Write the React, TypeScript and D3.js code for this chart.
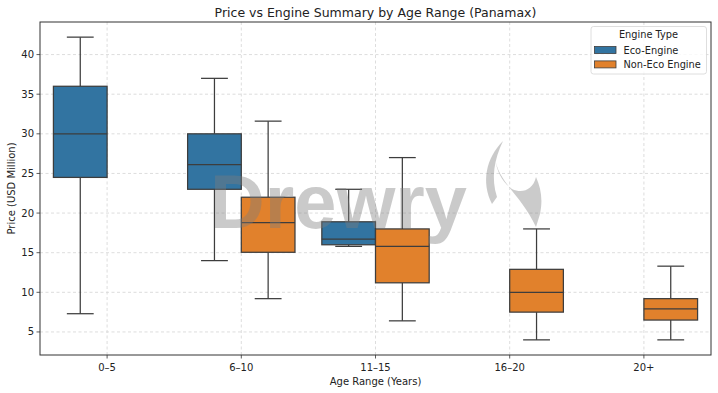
import React from "react";
import * as d3 from "d3";

const categories = ["0–5", "6–10", "11–15", "16–20", "20+"];
const engineTypes = ["Eco-Engine", "Non-Eco Engine"];
const colors = ["#3274a1", "#e1812c"];

// per category: [whiskerLow, q1, median, q3, whiskerHigh]
const ecoStats: (number[] | null)[] = [
  [7.3, 24.5, 30.0, 36.0, 42.2],
  [14.0, 23.0, 26.1, 30.0, 37.0],
  [15.8, 16.0, 16.7, 18.9, 23.0],
  null,
  null,
];
const nonEcoStats: (number[] | null)[] = [
  null,
  [9.2, 15.05, 18.8, 22.0, 31.6],
  [6.4, 11.2, 15.8, 18.0, 27.0],
  [4.0, 7.5, 10.0, 12.9, 18.0],
  [4.0, 6.5, 7.9, 9.2, 13.3],
];
const yTicks = [5, 10, 15, 20, 25, 30, 35, 40];

const W = 718;
const H = 393;
const M = { left: 40, right: 711, top: 22, bottom: 355 };
const FONT = "DejaVu Sans, sans-serif";

export default function App() {
  const x = d3.scaleLinear().domain([-0.5, 4.5]).range([M.left, M.right]);
  const y = d3.scaleLinear().domain([2.09, 44.11]).range([M.bottom, M.top]);
  const boxW = x(0.4) - x(0);
  const series = [ecoStats, nonEcoStats];

  return (
    <svg width={W} height={H} style={{ position: "absolute", left: 0, top: 0, background: "#fff" }}>
      <rect x={0} y={0} width={W} height={H} fill="#fff" />
      {/* grid */}
      {yTicks.map((t) => (
        <line key={"gy" + t} x1={M.left} x2={M.right} y1={y(t)} y2={y(t)} stroke="#d4d4d4" strokeWidth={0.8} strokeDasharray="3,2.5" />
      ))}
      {categories.map((c, i) => (
        <line key={"gx" + c} y1={M.top} y2={M.bottom} x1={x(i)} x2={x(i)} stroke="#d4d4d4" strokeWidth={0.8} strokeDasharray="3,2.5" />
      ))}
      {/* boxes */}
      {series.map((s, si) =>
        s.map((st, ci) => {
          if (!st) return null;
          const [lo, q1, med, q3, hi] = st;
          const x0 = si === 0 ? x(ci - 0.4) : x(ci);
          const cx = x0 + boxW / 2;
          const capW = boxW / 2;
          return (
            <g key={si + "-" + ci} stroke="#3d3d3d" strokeWidth={1.25}>
              <line x1={cx} x2={cx} y1={y(q3)} y2={y(hi)} />
              <line x1={cx} x2={cx} y1={y(q1)} y2={y(lo)} />
              <line x1={cx - capW / 2} x2={cx + capW / 2} y1={y(hi)} y2={y(hi)} />
              <line x1={cx - capW / 2} x2={cx + capW / 2} y1={y(lo)} y2={y(lo)} />
              <rect x={x0} y={y(q3)} width={boxW} height={y(q1) - y(q3)} fill={colors[si]} />
              <line x1={x0} x2={x0 + boxW} y1={y(med)} y2={y(med)} />
            </g>
          );
        })
      )}
      {/* watermark */}
      <g opacity={0.4} fill="#7d7d7d">
        <text x={210} y={228} fontFamily="'Liberation Sans', Arial, sans-serif" fontWeight={700} fontSize={76} textLength={257} lengthAdjust="spacingAndGlyphs">
          Drewry
        </text>
        <path d="M503,141 C486,158 481,182 492,204 L497,197 C491,178 494,160 503,141 Z" />
        <path d="M495,158 C498,182 522,196 536,227 L540,214 C543,200 541,188 536,177 C533,190 522,194 512,189 C502,182 497,172 495,158 Z" />
      </g>
      {/* spines */}
      <rect x={M.left} y={M.top} width={M.right - M.left} height={M.bottom - M.top} fill="none" stroke="#333" strokeWidth={1} />
      {/* y axis */}
      {yTicks.map((t) => (
        <g key={"yt" + t}>
          <line x1={M.left - 3.5} x2={M.left} y1={y(t)} y2={y(t)} stroke="#333" strokeWidth={0.8} />
          <text x={M.left - 6} y={y(t)} dy="0.35em" textAnchor="end" fontFamily={FONT} fontSize={10} fill="#222">
            {t}
          </text>
        </g>
      ))}
      {/* x axis */}
      {categories.map((c, i) => (
        <g key={"xt" + c}>
          <line x1={x(i)} x2={x(i)} y1={M.bottom} y2={M.bottom + 3.5} stroke="#333" strokeWidth={0.8} />
          <text x={x(i)} y={370.5} textAnchor="middle" fontFamily={FONT} fontSize={10} fill="#222">
            {c}
          </text>
        </g>
      ))}
      <text x={(M.left + M.right) / 2} y={384.5} textAnchor="middle" fontFamily={FONT} fontSize={10} fill="#222">
        Age Range (Years)
      </text>
      <text transform={`translate(14.5,${(M.top + M.bottom) / 2}) rotate(-90)`} textAnchor="middle" fontFamily={FONT} fontSize={10} fill="#222">
        Price (USD Million)
      </text>
      <text x={(M.left + M.right) / 2} y={16.5} textAnchor="middle" fontFamily={FONT} fontSize={12.5} fill="#222">
        Price vs Engine Summary by Age Range (Panamax)
      </text>
      {/* legend */}
      <rect x={591} y={26.5} width={115.5} height={47.5} rx={2.5} fill="#fff" fillOpacity={0.8} stroke="#d5d5d5" strokeWidth={0.8} />
      <text x={648.5} y={38.2} textAnchor="middle" fontFamily={FONT} fontSize={9.8} fill="#222">
        Engine Type
      </text>
      {engineTypes.map((e, i) => (
        <g key={e}>
          <rect x={594.5} y={46.5 + i * 14.4} width={21.5} height={7} fill={colors[i]} stroke="#3d3d3d" strokeWidth={0.8} />
          <text x={623.5} y={53.5 + i * 14.4} fontFamily={FONT} fontSize={9.8} fill="#222">
            {e}
          </text>
        </g>
      ))}
    </svg>
  );
}
